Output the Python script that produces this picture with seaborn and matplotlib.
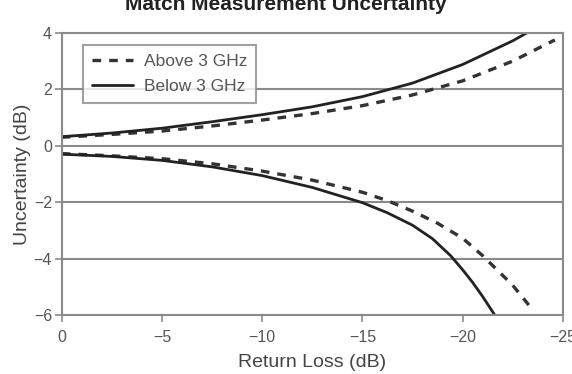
import matplotlib
matplotlib.use("Agg")
import matplotlib.pyplot as plt
import seaborn as sns

# valores (Return Loss dB -> incertidumbre dB)
x_above_up = [0, -2.5, -5, -7.5, -10, -12.5, -15, -17.5, -20, -22.5, -24.6]
y_above_up = [0.30, 0.40, 0.52, 0.70, 0.91, 1.14, 1.42, 1.80, 2.30, 3.00, 3.75]
x_below_up = [0, -2.5, -5, -7.5, -10, -12.5, -15, -17.5, -20, -22.5, -23.2]
y_below_up = [0.32, 0.45, 0.62, 0.85, 1.10, 1.38, 1.74, 2.22, 2.88, 3.72, 4.0]
x_above_lo = [0, -2.5, -5, -7.5, -10, -12.5, -15, -16.25, -17.5, -18.75, -20, -21, -22, -22.5, -23.3]
y_above_lo = [-0.28, -0.36, -0.46, -0.64, -0.90, -1.22, -1.65, -1.95, -2.32, -2.75, -3.28, -3.9, -4.6, -4.95, -5.65]
x_below_lo = [0, -2.5, -5, -7.5, -10, -12.5, -15, -16.25, -17.5, -18.5, -19.4, -20, -20.5, -21, -21.6]
y_below_lo = [-0.30, -0.38, -0.52, -0.75, -1.06, -1.48, -2.02, -2.38, -2.82, -3.3, -3.9, -4.4, -4.85, -5.35, -6.0]

xticks = [0, -5, -10, -15, -20, -25]
yticks = [-6, -4, -2, 0, 2, 4]

sns.set_style("white")
plt.rcParams['font.family'] = ['Liberation Sans', 'DejaVu Sans']

fig = plt.figure(figsize=(5.72, 3.74), dpi=100)
ax = fig.add_axes([0.108, 0.158, 0.876, 0.754])

dash = (0, (2.6, 2.4))
sns.lineplot(x=x_above_up, y=y_above_up, ax=ax, color='#333333', lw=2.4,
             linestyle=dash, sort=False, label='Above 3 GHz')
sns.lineplot(x=x_below_up, y=y_below_up, ax=ax, color='#222222', lw=2.0,
             sort=False, label='Below 3 GHz')
sns.lineplot(x=x_above_lo, y=y_above_lo, ax=ax, color='#333333', lw=2.4,
             linestyle=dash, sort=False)
sns.lineplot(x=x_below_lo, y=y_below_lo, ax=ax, color='#222222', lw=2.0,
             sort=False)

#ejes
ax.set_xlim(0, -25)
ax.set_ylim(-6, 4)
ax.set_xticks(xticks)
ax.set_yticks(yticks)
for yv in [-4, -2, 0, 2]:
    ax.axhline(yv, color='#8a8a8a', lw=1.5, zorder=0)
for s in ax.spines.values():
    s.set_color('#8a8a8a')
    s.set_linewidth(1.5)
ax.tick_params(axis='both', direction='out', length=5, width=1.2,
               color='#8a8a8a', labelsize=11.5, labelcolor='#555555')
ax.tick_params(axis='x', pad=6, bottom=True)
ax.tick_params(axis='y', pad=2, left=True)
ax.set_xlabel('Return Loss (dB)', fontsize=14, color='#444444', labelpad=6)
ax.set_ylabel('Uncertainty (dB)', fontsize=14, color='#444444', labelpad=2)

leg = ax.legend(loc='upper left', bbox_to_anchor=(0.042, 0.957), fontsize=12.5,
                frameon=True, fancybox=False, edgecolor='#8a8a8a',
                handlelength=2.4, handletextpad=0.6, borderpad=0.5,
                labelspacing=0.6, borderaxespad=0)
leg.get_frame().set_linewidth(1.5)
for t in leg.get_texts():
    t.set_color('#555555')

# titulo cortado arriba como en la imagen original
fig.text(0.5, 1 - 10 / 374, 'Match Measurement Uncertainty', ha='center',
         va='baseline', fontsize=15, fontweight='bold', color='#222222')

fig.savefig('out.png', dpi=100)
